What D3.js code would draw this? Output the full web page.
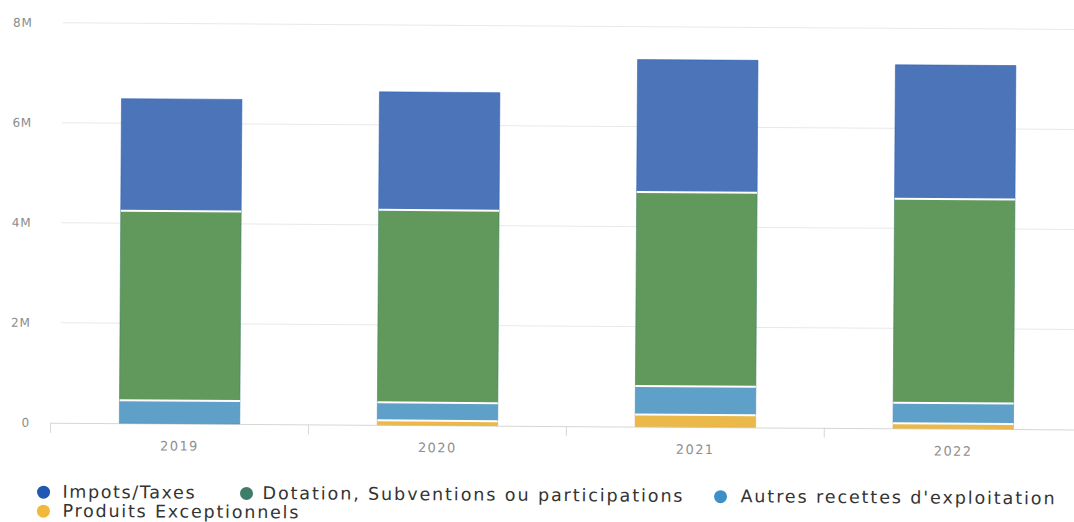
<!DOCTYPE html>
<html>
<head>
<meta charset="utf-8">
<script src="https://cdn.jsdelivr.net/npm/d3@7"></script>
<style>
  html, body { margin: 0; padding: 0; background: #fff; }
  svg { display: block; }
</style>
</head>
<body>
<svg id="chart" width="1074" height="522"></svg>
<script>
// Recettes de fonctionnement par année (en euros)
const years = ["2019", "2020", "2021", "2022"];
const impots = [2240000, 2360000, 2650000, 2680000];
const dotation = [3790000, 3850000, 3880000, 4080000];
const autres = [460000, 360000, 570000, 410000];
const produits = [0, 90000, 240000, 100000];

const seriesNames = ["Impots/Taxes", "Dotation, Subventions ou participations", "Autres recettes d'exploitation", "Produits Exceptionnels"];
const yTicks = [0, 2000000, 4000000, 6000000, 8000000];
const yTickLabels = ["0", "2M", "4M", "6M", "8M"];

const barColors = ["#4c74b9", "#61985b", "#5ea0c8", "#eab94a"];
const legendColors = ["#1f57b3", "#3f7d6b", "#3f8ec6", "#f1b93c"];

const svg = d3.select("#chart");
// the whole drawing sits very slightly tilted
const root = svg.append("g").attr("transform", "rotate(0.38, 550, 426)");

const x = d3.scaleBand()
  .domain(years)
  .range([50.6, 1082.2])
  .paddingInner(0.533)
  .paddingOuter(0.2665);

const y = d3.scaleLinear().domain([0, 8000000]).range([426, 26]);

// horizontal grid
root.append("g")
  .selectAll("line")
  .data(yTicks.filter(d => d > 0))
  .join("line")
  .attr("x1", 60).attr("x2", 1090)
  .attr("y1", d => y(d)).attr("y2", d => y(d))
  .attr("stroke", "#e8e8e8").attr("stroke-width", 1);

// y tick labels
const yAxis = d3.axisLeft(y)
  .tickValues(yTicks)
  .tickFormat((d, i) => yTickLabels[i])
  .tickSize(0)
  .tickPadding(0);
const gy = root.append("g").attr("transform", "translate(30,0)").call(yAxis);
gy.select(".domain").remove();
gy.selectAll("text")
  .attr("fill", "#8c8c8c")
  .style("font-family", "'DejaVu Sans', sans-serif")
  .style("font-size", "12px")
  .style("letter-spacing", "0.8px");

// x axis
const xAxis = d3.axisBottom(x).tickSize(0).tickPadding(0);
const gx = root.append("g").attr("transform", `translate(0,${y(0)})`).call(xAxis);
gx.select(".domain").remove();
gx.selectAll("text")
  .attr("y", 27)
  .attr("dy", 0)
  .attr("fill", "#8f8f8f")
  .style("font-family", "'DejaVu Sans', sans-serif")
  .style("font-size", "13px")
  .style("letter-spacing", "1.4px");

root.append("line")
  .attr("x1", 50).attr("x2", 1090)
  .attr("y1", y(0) + 0.5).attr("y2", y(0) + 0.5)
  .attr("stroke", "#d6d6d6");

// tick marks between categories
const bounds = [x.range()[0]].concat(years.map(d => x(d) + x.bandwidth() + x.step() * x.paddingInner() / 2));
root.append("g")
  .selectAll("line")
  .data(bounds)
  .join("line")
  .attr("x1", d => d).attr("x2", d => d)
  .attr("y1", y(0)).attr("y2", y(0) + 10)
  .attr("stroke", "#d6d6d6");

// stacked bars, bottom to top
const rows = years.map((yr, i) => ({
  year: yr,
  produits: produits[i],
  autres: autres[i],
  dotation: dotation[i],
  impots: impots[i]
}));
const keysBottomUp = ["produits", "autres", "dotation", "impots"];
const colorByKey = { impots: barColors[0], dotation: barColors[1], autres: barColors[2], produits: barColors[3] };
const edgeByKey = { impots: "#2a5db3", dotation: "#3f7f62", autres: "#3f8ab8", produits: "#e0a838" };
const stacked = d3.stack().keys(keysBottomUp)(rows);

const layers = root.append("g")
  .selectAll("g")
  .data(stacked)
  .join("g")
  .attr("fill", d => colorByKey[d.key]);

layers.selectAll("rect")
  .data(d => d.filter(s => s[1] - s[0] > 0).map(s => ({ s, key: d.key })))
  .join("rect")
  .attr("x", d => x(d.s.data.year))
  .attr("width", x.bandwidth())
  .attr("y", d => y(d.s[1]))
  .attr("height", d => y(d.s[0]) - y(d.s[1]))
  .attr("stroke", d => edgeByKey[d.key])
  .attr("stroke-width", 0.8)
  .attr("stroke-opacity", 0.7);

// white separators between stacked segments
layers.filter(d => d.key !== "produits")
  .selectAll("line")
  .data(d => d.filter(s => s[1] - s[0] > 0 && s[0] > 0))
  .join("line")
  .attr("x1", s => x(s.data.year))
  .attr("x2", s => x(s.data.year) + x.bandwidth())
  .attr("y1", s => y(s[0]))
  .attr("y2", s => y(s[0]))
  .attr("stroke", "#ffffff")
  .attr("stroke-width", 2);

// legend
const legendItems = [
  { name: seriesNames[0], color: legendColors[0], cx: 44, tx: 63, base: 501, width: 132 },
  { name: seriesNames[1], color: legendColors[1], cx: 247, tx: 263, base: 501, width: 420 },
  { name: seriesNames[2], color: legendColors[2], cx: 721, tx: 741, base: 501, width: 314 },
  { name: seriesNames[3], color: legendColors[3], cx: 44, tx: 63, base: 520, width: 236 }
];
const lg = root.append("g")
  .selectAll("g")
  .data(legendItems)
  .join("g");
lg.append("circle")
  .attr("cx", d => d.cx)
  .attr("cy", d => d.base - 5.5)
  .attr("r", 6.5)
  .attr("fill", d => d.color);
lg.append("text")
  .attr("x", d => d.tx)
  .attr("y", d => d.base)
  .attr("textLength", d => d.width)
  .attr("lengthAdjust", "spacing")
  .attr("fill", "#333333")
  .style("font-family", "'DejaVu Sans', sans-serif")
  .style("font-size", "17.5px")
  .text(d => d.name);
</script>
</body>
</html>
